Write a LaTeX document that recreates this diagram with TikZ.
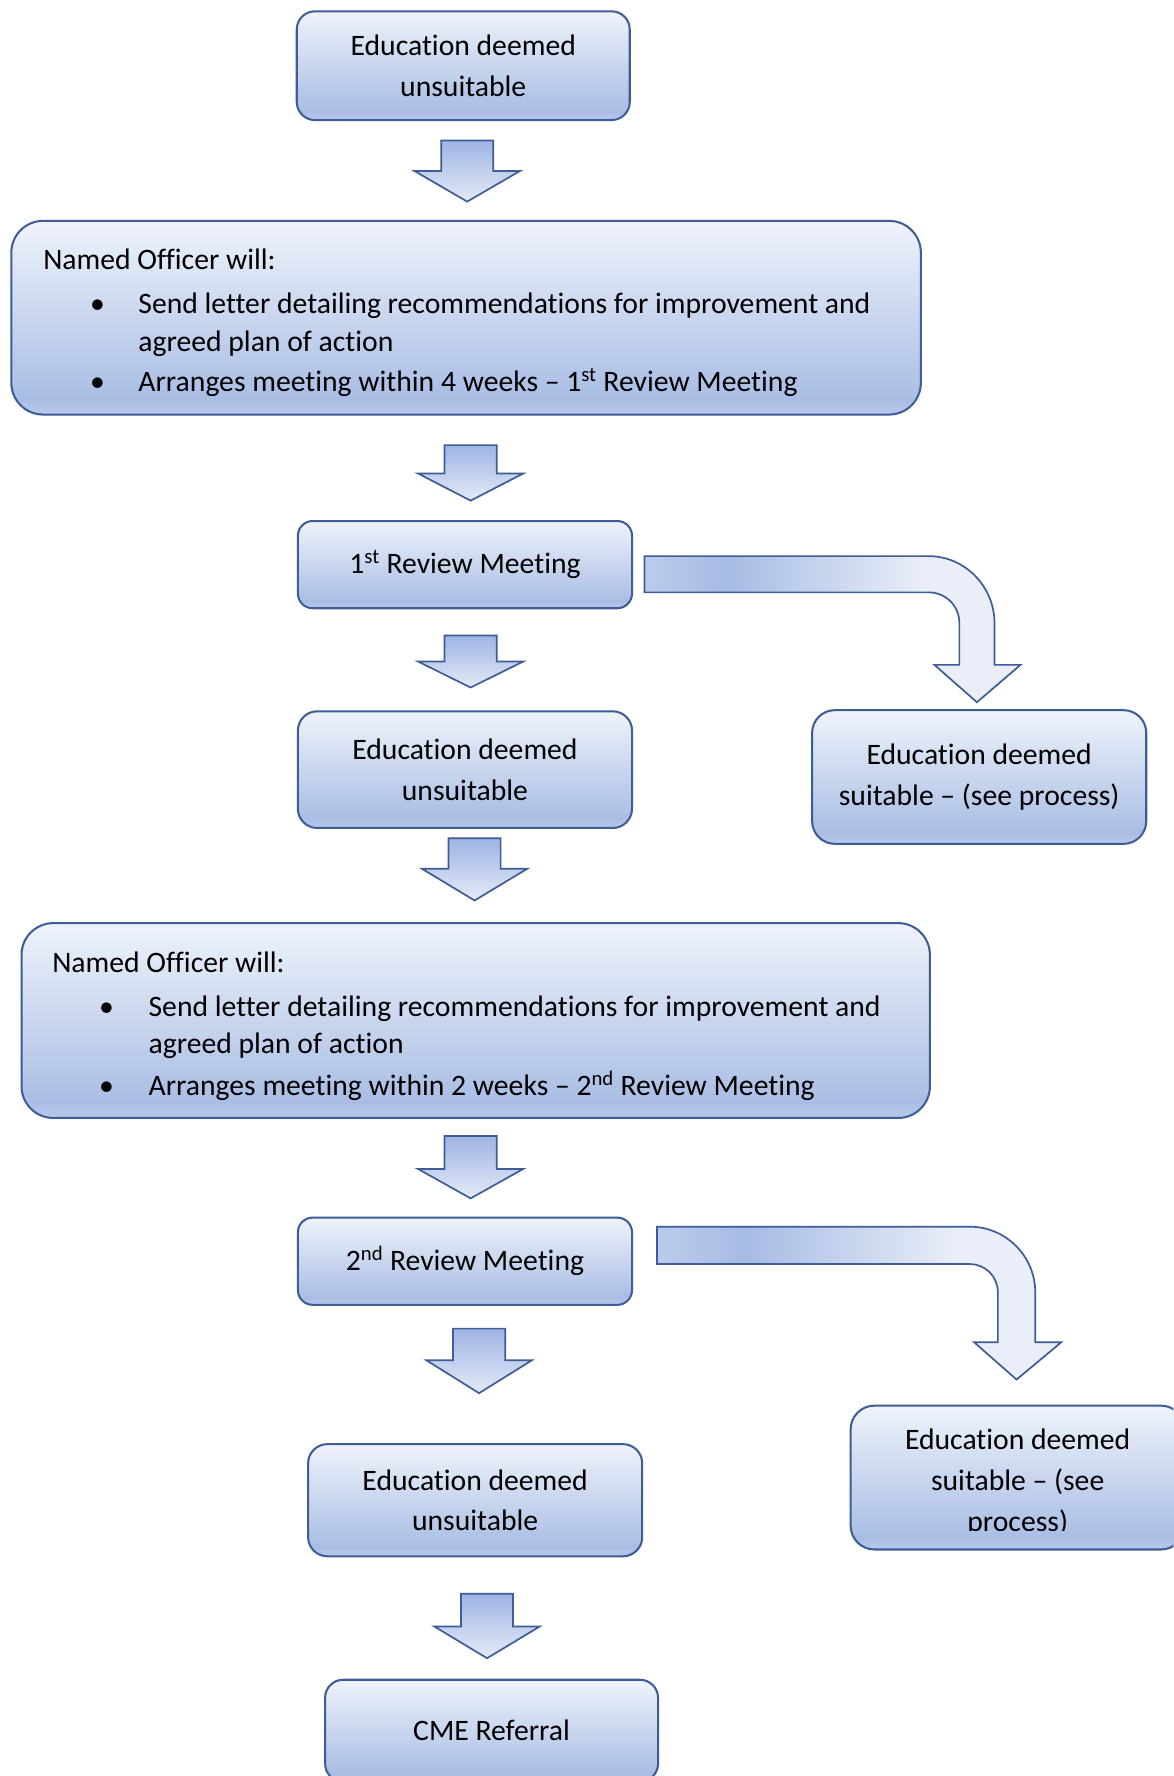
\documentclass[tikz,border=0pt]{standalone}
\usepackage{fontspec}
\setmainfont{Carlito}[Ligatures=NoCommon]
\definecolor{bord}{RGB}{62,92,150}
\definecolor{bxtop}{RGB}{239,243,251}
\definecolor{bxmid}{RGB}{169,189,228}
\definecolor{bxbot}{RGB}{185,201,234}
\definecolor{artop}{RGB}{159,180,228}
\definecolor{arbot}{RGB}{228,234,247}
\definecolor{bnone}{RGB}{188,203,235}
\definecolor{bndark}{RGB}{166,187,228}
\definecolor{bnlight}{RGB}{233,238,248}
\pgfdeclareverticalshading{boxsh}{100bp}{color(0bp)=(bxbot); color(25bp)=(bxbot); color(29bp)=(bxmid); color(75bp)=(bxtop); color(100bp)=(bxtop)}
\pgfdeclareverticalshading{arrsh}{100bp}{color(0bp)=(arbot); color(25bp)=(arbot); color(75bp)=(artop); color(100bp)=(artop)}
\pgfdeclarehorizontalshading{bentsh}{100bp}{color(0bp)=(bnone); color(25bp)=(bnone); color(36bp)=(bndark); color(62bp)=(bnlight); color(75bp)=(bnlight); color(100bp)=(bnlight)}
\newcommand\bxfont{\fontsize{26.2}{36}\selectfont}
\newcommand\blockarrow[4]{\draw[darrow] (#1-23,#2) -- (#1+23,#2) -- (#1+23,#3) -- (#1+46.5,#3) -- (#1,#4) -- (#1-46.5,#3) -- (#1-23,#3) -- cycle;}
\tikzset{
  box/.style={draw=bord, line width=1.8pt, rounded corners=#1, shading=boxsh, inner sep=0pt, align=center, font=\bxfont, text=black},
  box/.default=15pt,
  txt/.style={inner sep=0pt, font=\bxfont, text=black},
  darrow/.style={draw=bord, line width=1.5pt, shading=arrsh, line join=miter},
  barrow/.style={draw=bord, line width=1.5pt, shading=bentsh, line join=miter},
}
\begin{document}
\begin{tikzpicture}[x=1pt,y=-1pt]
\useasboundingbox (0,0) rectangle (1036,1568);
\clip (0,0) rectangle (1036,1568);
\fill[white] (0,0) rectangle (1036,1568);

% boxes
\node[box=16pt, minimum width=294pt, minimum height=96pt] (b1) at (409,58) {Education deemed\\unsuitable};
\node[box=28pt, minimum width=803pt, minimum height=171pt] (b2) at (411.5,280.5) {};
\node[box=13pt, minimum width=295pt, minimum height=77pt] (b3) at (410.5,498.5) {1\textsuperscript{st} Review Meeting};
\node[box=17pt, minimum width=295pt, minimum height=103pt] (b4) at (410.5,679.5) {Education deemed\\unsuitable};
\node[box=20pt, minimum width=295pt, minimum height=118pt] (b5) at (864.5,686) {Education deemed\\suitable – (see process)};
\node[box=28pt, minimum width=802pt, minimum height=172pt] (b6) at (420,901) {};
\node[box=13pt, minimum width=295pt, minimum height=77pt] (b7) at (410.5,1113.5) {2\textsuperscript{nd} Review Meeting};
\node[box=17pt, minimum width=295pt, minimum height=99pt] (b8) at (419.5,1324.5) {Education deemed\\unsuitable};
\node[box=21pt, minimum width=295pt, minimum height=127pt] (b9) at (898.5,1304.5) {};
\begin{scope}
\clip (740,1230) rectangle (1040,1351);
\node[txt, align=center] (t9) at (898.5,1309) {Education deemed\\suitable – (see\\process)};
\end{scope}
\node[box=16pt, minimum width=294pt, minimum height=90pt] (b10) at (434,1528) {CME Referral};

% text of box 2
\node[txt, anchor=base west] (n2a) at (38,238) {Named Officer will:};
\node[txt, anchor=base] (n2b) at (86,277) {•};
\node[txt, anchor=base west] (n2c) at (122,277) {Send letter detailing recommendations for improvement and};
\node[txt, anchor=base west] (n2d) at (122,310) {agreed plan of action};
\node[txt, anchor=base] (n2e) at (86,346) {•};
\node[txt, anchor=base west] (n2f) at (122,346) {Arranges meeting within 4 weeks – 1\textsuperscript{st} Review Meeting};

% text of box 6
\node[txt, anchor=base west] (n6a) at (46,859) {Named Officer will:};
\node[txt, anchor=base] (n6b) at (94,897) {•};
\node[txt, anchor=base west] (n6c) at (131,897) {Send letter detailing recommendations for improvement and};
\node[txt, anchor=base west] (n6d) at (131,930) {agreed plan of action};
\node[txt, anchor=base] (n6e) at (94,967) {•};
\node[txt, anchor=base west] (n6f) at (131,967) {Arranges meeting within 2 weeks – 2\textsuperscript{nd} Review Meeting};

% down block arrows
\blockarrow{412.5}{124}{151}{178}
\blockarrow{415.5}{393}{418}{442}
\blockarrow{415.5}{561}{584}{607}
\blockarrow{419}{740}{767}{795}
\blockarrow{415.5}{1003}{1032}{1058}
\blockarrow{423}{1173}{1201}{1230}
\blockarrow{430}{1407}{1436}{1464}

% bent arrows
\draw[barrow] (569,491) -- (820,491) .. controls (852,491) and (878,518) .. (878,550) -- (878,587) -- (901,587) -- (862.5,620) -- (825,587) -- (847,587) -- (847,550) .. controls (847,535) and (835,523) .. (820,523) -- (569,523) -- cycle;
\draw[barrow] (580,1083) -- (856,1083) .. controls (888,1083) and (914,1109) .. (914,1141) -- (914,1185) -- (937,1185) -- (897.5,1218) -- (860,1185) -- (881,1185) -- (881,1141) .. controls (881,1127) and (870,1116) .. (856,1116) -- (580,1116) -- cycle;
\end{tikzpicture}
\end{document}
